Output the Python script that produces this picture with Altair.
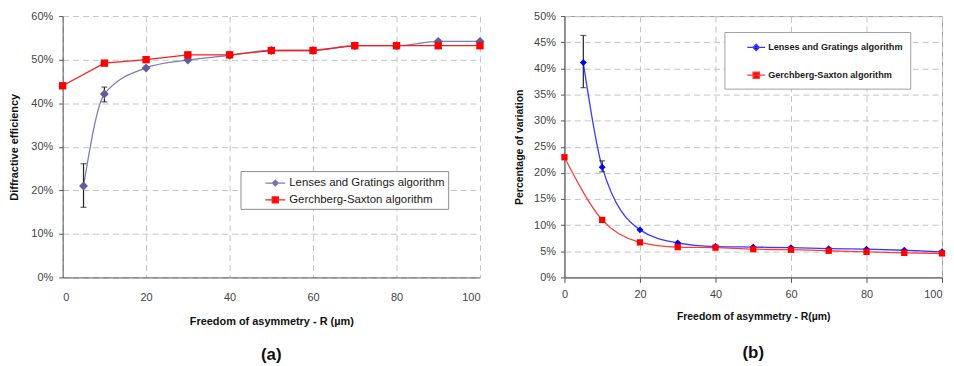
import altair as alt
import pandas as pd

SERIES = ["Lenses and Gratings algorithm", "Gerchberg-Saxton algorithm"]
FONT = "Liberation Sans"

# ---------------- Panel (a): diffractive efficiency (%) ----------------
a_lg_x = [5, 10, 20, 30, 40, 50, 60, 70, 80, 90, 100]
a_lg_y = [21.0, 42.1, 48.1, 49.9, 51.0, 52.1, 52.1, 53.2, 53.2, 54.2, 54.2]
a_gs_x = [0, 10, 20, 30, 40, 50, 60, 70, 80, 90, 100]
a_gs_y = [44.0, 49.2, 50.0, 51.1, 51.1, 52.1, 52.1, 53.2, 53.2, 53.2, 53.2]
a_err_x = [5, 10]
a_err_lo = [16.1, 40.3]
a_err_hi = [26.1, 43.7]

# ---------------- Panel (b): percentage of variation (%) ----------------
b_lg_x = [5, 10, 20, 30, 40, 50, 60, 70, 80, 90, 100]
b_lg_y = [41.1, 21.1, 9.1, 6.6, 5.9, 5.8, 5.7, 5.5, 5.4, 5.2, 4.9]
b_gs_x = [0, 10, 20, 30, 40, 50, 60, 70, 80, 90, 100]
b_gs_y = [23.0, 11.0, 6.7, 5.8, 5.7, 5.4, 5.3, 5.1, 4.9, 4.7, 4.6]
b_err_x = [5, 10]
b_err_lo = [36.3, 20.2]
b_err_hi = [46.3, 22.3]

x_ticks = [0, 20, 40, 60, 80, 100]
a_y_ticks = [0, 10, 20, 30, 40, 50, 60]
b_y_ticks = [0, 5, 10, 15, 20, 25, 30, 35, 40, 45, 50]


def long_df(lg_x, lg_y, gs_x, gs_y):
    return pd.DataFrame(
        {
            "x": list(lg_x) + list(gs_x),
            "y": list(lg_y) + list(gs_y),
            "series": [SERIES[0]] * len(lg_x) + [SERIES[1]] * len(gs_x),
        }
    )


def panel(df, err, ymax, yticks, xtitle, ytitle, marker_colors, line_colors,
          sizes, gs_interp, w, h, legend, legend_paths, xaxis, yaxis, title, view):
    x_enc = alt.X(
        "x:Q",
        scale=alt.Scale(domain=[0, 100], nice=False, zero=False),
        axis=alt.Axis(values=x_ticks, tickCount=len(x_ticks), title=xtitle, **xaxis),
    )
    y_enc = alt.Y(
        "y:Q",
        scale=alt.Scale(domain=[0, ymax], nice=False),
        axis=alt.Axis(values=yticks, tickCount=len(yticks), title=ytitle,
                      labelExpr="datum.value + '%'", **yaxis),
    )
    base = alt.Chart(df)
    lg = base.transform_filter(alt.datum.series == SERIES[0])
    gs = base.transform_filter(alt.datum.series == SERIES[1])
    line_lg = lg.mark_line(interpolate="monotone", color=line_colors[0], strokeWidth=1.3).encode(
        x=x_enc, y=y_enc
    )
    line_gs = gs.mark_line(interpolate=gs_interp, color=line_colors[1], strokeWidth=1.3).encode(
        x="x:Q", y="y:Q"
    )
    errc = alt.Chart(err)
    rule = errc.mark_rule(color="#222222", strokeWidth=1.2).encode(
        x="x:Q", y="lo:Q", y2="hi:Q"
    )
    cap_lo = errc.mark_tick(color="#222222", orient="horizontal", size=6, thickness=1.2).encode(
        x="x:Q", y="lo:Q"
    )
    cap_hi = errc.mark_tick(color="#222222", orient="horizontal", size=6, thickness=1.2).encode(
        x="x:Q", y="hi:Q"
    )
    pts_lg = lg.mark_point(filled=True, opacity=1, shape="diamond", size=sizes[0],
                           color=marker_colors[0]).encode(x="x:Q", y="y:Q")
    pts_gs = gs.mark_point(filled=True, opacity=1, shape="square", size=sizes[1],
                           color=marker_colors[1]).encode(x="x:Q", y="y:Q")
    # legend-only layer (no rows drawn); the legend comes from its scales
    leg = (
        base.transform_filter("false")
        .mark_point(filled=False, opacity=1)
        .encode(
            x="x:Q",
            y="y:Q",
            fill=alt.Fill("series:N", scale=alt.Scale(domain=SERIES, range=marker_colors), legend=legend),
            stroke=alt.Stroke("series:N", scale=alt.Scale(domain=SERIES, range=line_colors), legend=legend),
            shape=alt.Shape("series:N", scale=alt.Scale(domain=SERIES, range=legend_paths), legend=legend),
        )
    )
    return alt.layer(line_lg, line_gs, rule, cap_lo, cap_hi, pts_lg, pts_gs, leg).properties(
        width=w, height=h, title=title, view=view
    )


a_df = long_df(a_lg_x, a_lg_y, a_gs_x, a_gs_y)
a_err = pd.DataFrame({"x": a_err_x, "lo": a_err_lo, "hi": a_err_hi})
b_df = long_df(b_lg_x, b_lg_y, b_gs_x, b_gs_y)
b_err = pd.DataFrame({"x": b_err_x, "lo": b_err_lo, "hi": b_err_hi})

a_paths = ["M-1.25,0H1.25M0,-0.36L0.36,0L0,0.36L-0.36,0Z",
           "M-1.25,0H1.25M-0.38,-0.38H0.38V0.38H-0.38Z"]
b_paths = ["M-1.2,0H1.2M0,-0.42L0.42,0L0,0.42L-0.42,0Z",
           "M-1.2,0H1.2M-0.42,-0.42H0.42V0.42H-0.42Z"]

a_marker = ["#5e5e9e", "#ff0000"]
a_line = ["#7c7cbc", "#ff1a1a"]
b_marker = ["#0000ff", "#ff0000"]
b_line = ["#3a3aff", "#ff3c3c"]

legend_a = alt.Legend(
    orient="none", legendX=179, legendY=156, title=None,
    strokeColor="#8c8c8c", fillColor="white", padding=3,
    symbolOffset=23, labelOffset=5, rowPadding=2, symbolSize=256,
    symbolStrokeWidth=1.3, symbolOpacity=1,
    labelFont=FONT, labelFontSize=11.5, labelColor="#1a1a1a",
)

legend_b = alt.Legend(
    orient="none", legendX=161, legendY=16, title=None,
    strokeColor="#a0a0a0", fillColor="white", padding=7,
    symbolOffset=16.5, labelOffset=3.5, rowPadding=13, symbolSize=225,
    symbolStrokeWidth=1.3, symbolOpacity=1,
    labelFont=FONT, labelFontSize=9.2, labelFontWeight="bold", labelColor="#1a1a1a",
)

common_axis = dict(
    labelFont=FONT, labelFontSize=11, labelColor="#444444", labelOverlap=False,
    titleFont=FONT, titleFontWeight="bold", titleColor="#111111",
    domainColor="#555555", tickColor="#555555",
    gridColor="#c4c4c4", gridDash=[6, 4], gridWidth=1,
)

last_right = {"condition": {"test": "datum.value == 100", "value": "right"}, "value": "center"}

panel_a = panel(
    a_df, a_err, 60, a_y_ticks,
    "Freedom of asymmetry - R (µm)", "Diffractive efficiency",
    a_marker, a_line, [81, 55], "linear", 420, 263, legend_a, a_paths,
    xaxis=dict(ticks=False, labelPadding=14, titlePadding=13, titleFontSize=11, **common_axis),
    yaxis=dict(ticks=True, tickSize=4, labelPadding=6, titlePadding=11, titleFontSize=11, **common_axis),
    title=alt.Title("(a)", orient="bottom", frame="group", anchor="middle",
                    fontSize=17, fontWeight="bold", font=FONT, color="#111111", offset=21),
    view=alt.ViewBackground(stroke="transparent"),
)

panel_b = panel(
    b_df, b_err, 50, b_y_ticks,
    "Freedom of asymmetry - R(µm)", "Percentage of variation",
    b_marker, b_line, [49, 40], "monotone", 380, 263, legend_b, b_paths,
    xaxis=dict(ticks=True, tickSize=5, labelPadding=6, titlePadding=12, titleFontSize=10.5,
               labelAlign=last_right, **common_axis),
    yaxis=dict(ticks=True, tickSize=4, labelPadding=5, titlePadding=9, titleFontSize=10.5, **common_axis),
    title=alt.Title("(b)", orient="bottom", frame="group", anchor="middle",
                    fontSize=17, fontWeight="bold", font=FONT, color="#111111", offset=24),
    view=alt.ViewBackground(stroke="#9a9a9a"),
)

chart = (
    alt.hconcat(panel_a, panel_b, spacing=29)
    .resolve_scale(fill="independent", stroke="independent", shape="independent")
    .resolve_legend(fill="independent", stroke="independent", shape="independent")
    .properties(padding={"left": 0, "top": 0, "right": 0, "bottom": 0}, background="white")
    .configure_view(stroke="transparent")
)

chart.save("out.html", embed_options={"renderer": "svg", "actions": False})
